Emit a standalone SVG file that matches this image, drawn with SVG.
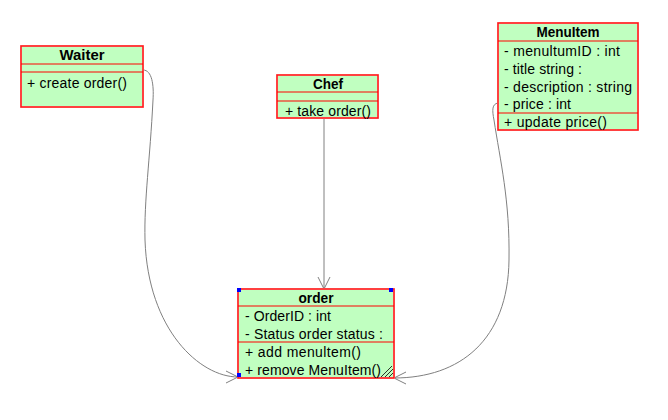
<svg xmlns="http://www.w3.org/2000/svg" width="668" height="420" viewBox="0 0 668 420">
<style>
.box{fill:#c0ffc0;stroke:#ff8080;stroke-width:2}
.ln{stroke:#ff0000;stroke-width:1;fill:none}
.t{font-family:"Liberation Sans",Arial,sans-serif;font-size:14px;fill:#000}
.h{font-weight:bold;text-anchor:middle}
.c{fill:none;stroke:#808080;stroke-width:1}
.sel{fill:#0000ff}
</style>
<defs>
<marker id="ah" markerWidth="14" markerHeight="14" refX="12" refY="6" orient="auto" markerUnits="userSpaceOnUse" overflow="visible">
<path d="M0,0 L12,6 L0,12" fill="none" stroke="#808080" stroke-width="1"/>
</marker>
</defs>
<rect width="668" height="420" fill="#fff"/>
<g id="connectors">
<path class="c" d="M324,118 L324,289" marker-end="url(#ah)"/>
<path class="c" d="M143,70 C152,70 154,85 153,100 C150,160 144,200 145,240 C148,330 200,377 238,377" marker-end="url(#ah)"/>
<path class="c" d="M498,103 C492,104 492,110 494,120 C500,160 510,200 509,260 C508,340 460,378 394,378" marker-end="url(#ah)"/>
</g>
<g id="Waiter">
<rect class="box" x="21" y="46" width="122" height="61"/>
<rect class="ln" x="21" y="46" width="122" height="61"/>
<line class="ln" x1="21" y1="64" x2="143" y2="64"/>
<line class="ln" x1="21" y1="72" x2="143" y2="72"/>
<text class="t h" x="82" y="60" textLength="45" lengthAdjust="spacingAndGlyphs">Waiter</text>
<text class="t" x="27" y="88" textLength="100">+ create order()</text>
</g>
<g id="Chef">
<rect class="box" x="277" y="75" width="101" height="43"/>
<rect class="ln" x="277" y="75" width="101" height="43"/>
<line class="ln" x1="277" y1="92" x2="378" y2="92"/>
<line class="ln" x1="277" y1="101" x2="378" y2="101"/>
<text class="t h" x="328" y="89" textLength="30" lengthAdjust="spacingAndGlyphs">Chef</text>
<text class="t" x="285" y="116" textLength="86">+ take order()</text>
</g>
<g id="MenuItem">
<rect class="box" x="498" y="23" width="140" height="107"/>
<rect class="ln" x="498" y="23" width="140" height="107"/>
<line class="ln" x1="498" y1="41" x2="638" y2="41"/>
<line class="ln" x1="498" y1="113" x2="638" y2="113"/>
<text class="t h" x="568" y="37" textLength="63" lengthAdjust="spacingAndGlyphs">MenuItem</text>
<text class="t" x="504" y="56" textLength="116">- menultumID : int</text>
<text class="t" x="504" y="74" textLength="78">- title string :</text>
<text class="t" x="504" y="92" textLength="128">- description : string</text>
<text class="t" x="504" y="109" textLength="67">- price : int</text>
<text class="t" x="504" y="127" textLength="103">+ update price()</text>
</g>
<g id="order">
<rect class="box" x="238" y="289" width="156" height="89"/>
<rect class="ln" x="238" y="289" width="156" height="89"/>
<line class="ln" x1="238" y1="306" x2="394" y2="306"/>
<line class="ln" x1="238" y1="342" x2="394" y2="342"/>
<text class="t h" x="316" y="303" textLength="35" lengthAdjust="spacingAndGlyphs">order</text>
<text class="t" x="245" y="321" textLength="86">- OrderID : int</text>
<text class="t" x="245" y="339" textLength="138">- Status order status :</text>
<text class="t" x="245" y="357" textLength="116">+ add menultem()</text>
<text class="t" x="245" y="375" textLength="136">+ remove MenuItem()</text>
<rect class="sel" x="237" y="288" width="4" height="4"/>
<rect class="sel" x="389" y="288" width="4" height="4"/>
<rect class="sel" x="237" y="373" width="4" height="4"/>
<path d="M381,377 L392,366 M385,377 L393,369 M389,377 L393,373" stroke="#000" stroke-width="0.8" fill="none"/>
</g>
</svg>
